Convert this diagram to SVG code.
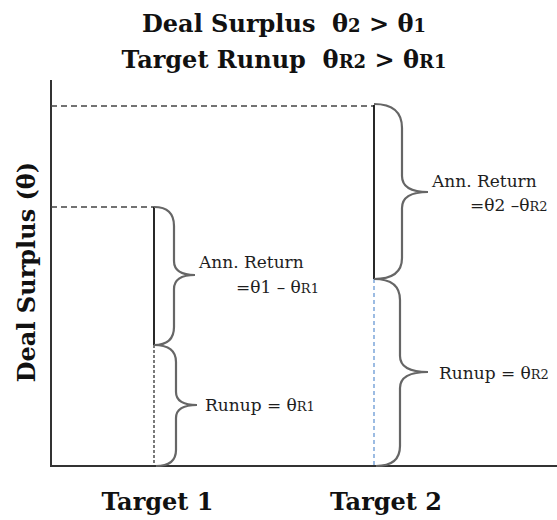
<svg xmlns="http://www.w3.org/2000/svg" width="557" height="520" viewBox="0 0 557 520">
<style>
.big{font-family:"DejaVu Serif","Liberation Serif",serif;font-weight:bold;font-size:24px;fill:#111}
.sm{font-family:"DejaVu Serif","Liberation Serif",serif;font-size:17px;fill:#1e1e1e}
.sub{font-size:13px}
.subb{font-size:18px}
.axis{stroke:#333;stroke-width:2;fill:none}
.guide{stroke:#444;stroke-width:1.5;stroke-dasharray:6 4;fill:none}
.brace{stroke:#666;stroke-width:2.2;fill:none}
.solid{stroke:#111;stroke-width:1.8;fill:none}
</style>
<rect width="557" height="520" fill="#fff"/>
<g id="title">
<text class="big" x="284" y="32" text-anchor="middle">Deal Surplus&#160; θ<tspan class="subb">2</tspan> &gt; θ<tspan class="subb">1</tspan></text>
<text class="big" x="284" y="68" text-anchor="middle">Target Runup&#160; θ<tspan class="subb">R2</tspan> &gt; θ<tspan class="subb">R1</tspan></text>
</g>
<g id="axes">
<line class="axis" x1="51" y1="80" x2="51" y2="466"/>
<line class="axis" x1="50" y1="466" x2="557" y2="466"/>
<text class="big" transform="translate(35,272) rotate(-90)" text-anchor="middle">Deal Surplus (θ)</text>
</g>
<g id="connectors">
<line class="guide" x1="51" y1="106" x2="374" y2="106"/>
<line class="guide" x1="51" y1="207" x2="154" y2="207"/>
<line class="solid" x1="154" y1="207" x2="154" y2="345"/>
<line x1="154" y1="345" x2="154" y2="465" stroke="#222" stroke-width="1.2" stroke-dasharray="3 2"/>
<line class="solid" x1="374" y1="105" x2="374" y2="279"/>
<line x1="374" y1="279" x2="374" y2="465" stroke="#5b8fd0" stroke-width="1.2" stroke-dasharray="4 3"/>
</g>
<g id="target1">
<path class="brace" d="M154,207 Q174,207 174,226 L174,261 Q174,275 195,275 Q174,275 174,289 L174,327 Q174,345 154,345"/>
<path class="brace" d="M154,345 Q176,345 176,362 L176,392 Q176,405 197,405 Q176,405 176,418 L176,450 Q176,466 156,466"/>
<text class="sm" x="199" y="268">Ann. Return</text>
<text class="sm" x="236" y="293">=θ1 – θ<tspan class="sub">R1</tspan></text>
<text class="sm" x="205" y="411">Runup = θ<tspan class="sub">R1</tspan></text>
<text class="big" x="157.5" y="510" text-anchor="middle">Target 1</text>
</g>
<g id="target2">
<path class="brace" d="M374,104 Q402,104 402,128 L402,176 Q402,192 428,192 Q402,192 402,208 L402,258 Q402,279 374,279"/>
<path class="brace" d="M374,279 Q400,279 400,300 L400,356 Q400,372 428,372 Q400,372 400,388 L400,446 Q400,466 376,466"/>
<text class="sm" x="432" y="187">Ann. Return</text>
<text class="sm" x="470" y="211">=θ2 –θ<tspan class="sub">R2</tspan></text>
<text class="sm" x="439" y="379">Runup = θ<tspan class="sub">R2</tspan></text>
<text class="big" x="386" y="510" text-anchor="middle">Target 2</text>
</g>
</svg>
